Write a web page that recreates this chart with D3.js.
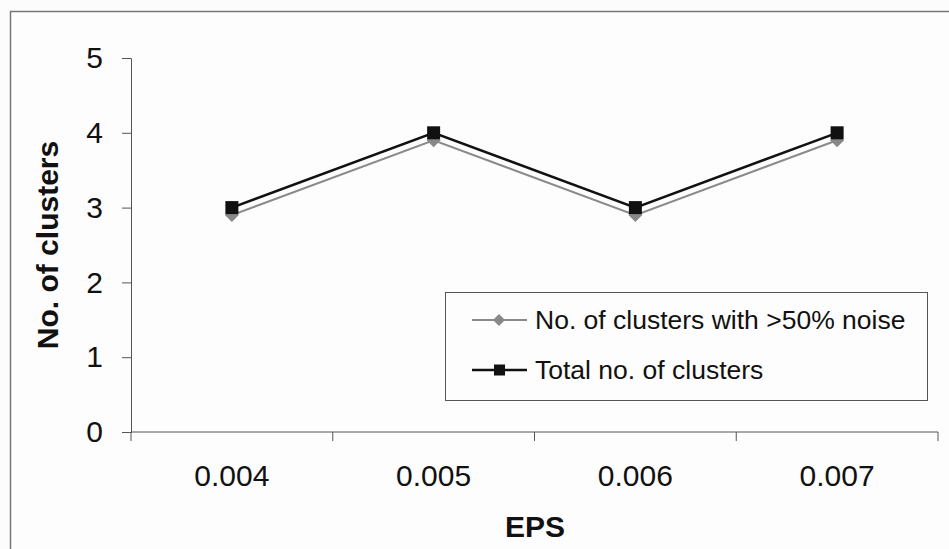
<!DOCTYPE html>
<html>
<head>
<meta charset="utf-8">
<script src="https://cdn.jsdelivr.net/npm/d3@7"></script>
<style>
  html, body { margin: 0; padding: 0; background: #fcfcfc; }
  svg { display: block; font-family: Arial, "Liberation Sans", sans-serif; }
</style>
</head>
<body>
<svg id="chart" width="949" height="549"></svg>
<script>
// EPS settings on the x axis
const categories = ["0.004", "0.005", "0.006", "0.007"];
// Clusters with more than half of their points marked as noise
const noiseClusters = [2.9, 3.9, 2.9, 3.9];
// Total clusters found
const totalClusters = [3, 4, 3, 4];
const yTicks = [0, 1, 2, 3, 4, 5];
const seriesNames = ["No. of clusters with >50% noise", "Total no. of clusters"];

const svg = d3.select("#chart");
const FONT = "Arial, 'Liberation Sans', sans-serif";
const margin = { left: 131, right: 11, top: 58, bottom: 117 };
const W = 949, H = 549;

// Outer chart frame
svg.append("rect")
  .attr("x", 10.5).attr("y", 11.5)
  .attr("width", W + 10).attr("height", H + 10)
  .attr("fill", "#fdfdfd").attr("stroke", "#777").attr("stroke-width", 1.5);

const x = d3.scaleBand().domain(categories).range([margin.left, W - margin.right]);
const y = d3.scaleLinear().domain([0, 5]).range([H - margin.bottom, margin.top]);

// Y axis
const yAxis = svg.append("g")
  .attr("transform", `translate(${margin.left},0)`)
  .call(d3.axisLeft(y).tickValues(yTicks).tickSize(9).tickPadding(19).tickFormat(d3.format("d")));
yAxis.selectAll("path, line").attr("stroke", "#555").attr("stroke-width", 1);
yAxis.selectAll("text").attr("font-size", 30).attr("fill", "#111").attr("font-family", FONT);

// X axis with tick marks at category boundaries
const xAxis = svg.append("g")
  .attr("transform", `translate(0,${y(0)})`)
  .call(d3.axisBottom(x).tickSize(0).tickPadding(33));
xAxis.select("path").attr("stroke", "#555").attr("stroke-width", 1).attr("d", `M${margin.left},0H${W - margin.right}`);
xAxis.selectAll("text").attr("font-size", 30).attr("fill", "#111").attr("font-family", FONT);
const bounds = categories.map(c => x(c)).concat([x(categories[categories.length - 1]) + x.bandwidth()]);
xAxis.selectAll(".bound").data(bounds).enter().append("line")
  .attr("x1", d => d).attr("x2", d => d).attr("y1", 0).attr("y2", 9)
  .attr("stroke", "#555").attr("stroke-width", 1);

// Axis titles
svg.append("text")
  .attr("x", 535).attr("y", 537)
  .attr("text-anchor", "middle").attr("font-size", 30).attr("font-weight", "bold").attr("fill", "#111")
  .text("EPS");
svg.append("text")
  .attr("transform", `translate(58,${(y(0) + y(5)) / 2}) rotate(-90)`)
  .attr("text-anchor", "middle").attr("font-size", 30).attr("font-weight", "bold").attr("fill", "#111")
  .text("No. of clusters");

const cx = c => x(c) + x.bandwidth() / 2;
const line = d3.line().x((d, i) => cx(categories[i])).y(d => y(d));

// Square rotated 45 degrees, as used by spreadsheet-style diamond markers
const diamondPath = r => `M0,${-r}L${r},0L0,${r}L${-r},0Z`;

// Noise series: gray line with diamonds
svg.append("path").datum(noiseClusters)
  .attr("d", line).attr("fill", "none").attr("stroke", "#8a8a8a").attr("stroke-width", 2);
svg.selectAll(".dm").data(noiseClusters).enter().append("path")
  .attr("transform", (d, i) => `translate(${cx(categories[i])},${y(d)})`)
  .attr("d", diamondPath(7)).attr("fill", "#888");

// Total series: black line with squares
svg.append("path").datum(totalClusters)
  .attr("d", line).attr("fill", "none").attr("stroke", "#111").attr("stroke-width", 2.5);
svg.selectAll(".sq").data(totalClusters).enter().append("rect")
  .attr("x", (d, i) => cx(categories[i]) - 6.5).attr("y", d => y(d) - 6.5)
  .attr("width", 13).attr("height", 13).attr("fill", "#111");

// Legend
const lg = svg.append("g");
lg.append("rect").attr("x", 445.5).attr("y", 292.5).attr("width", 482).attr("height", 108)
  .attr("fill", "#fdfdfd").attr("stroke", "#555").attr("stroke-width", 1);
const rows = [
  { name: seriesNames[0], y: 320, color: "#8a8a8a", marker: "diamond" },
  { name: seriesNames[1], y: 370, color: "#111", marker: "square" }
];
rows.forEach(r => {
  lg.append("line").attr("x1", 472).attr("x2", 527).attr("y1", r.y).attr("y2", r.y)
    .attr("stroke", r.color).attr("stroke-width", r.marker === "square" ? 2.5 : 2);
  if (r.marker === "diamond") {
    lg.append("path").attr("transform", `translate(499,${r.y})`)
      .attr("d", diamondPath(6)).attr("fill", "#888");
  } else {
    lg.append("rect").attr("x", 494).attr("y", r.y - 5.5).attr("width", 11).attr("height", 11).attr("fill", "#111");
  }
  lg.append("text").attr("x", 535).attr("y", r.y + 9).attr("font-size", 26.5).attr("fill", "#111")
    .attr("font-family", FONT).text(r.name);
});
</script>
</body>
</html>
